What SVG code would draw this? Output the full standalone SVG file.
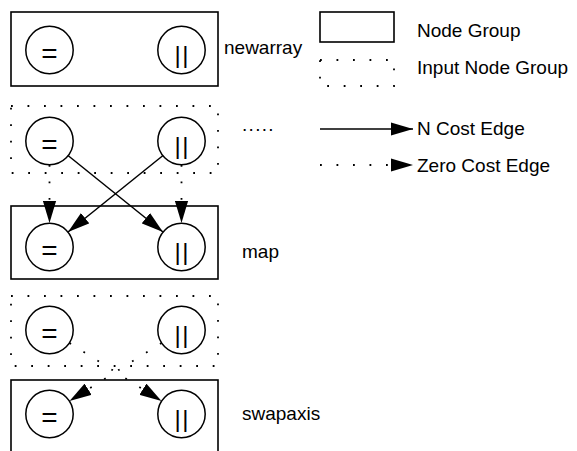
<svg xmlns="http://www.w3.org/2000/svg" width="577" height="451" viewBox="0 0 577 451">
<style>
.grp{fill:none;stroke:#000;stroke-width:1.6}
.inp{fill:none;stroke:#000;stroke-width:1.8;stroke-dasharray:1.8 14.7}
.nd{fill:#fff;stroke:#000;stroke-width:1.5}
.eq{font-family:"Liberation Sans",Arial,sans-serif;font-size:28px;text-anchor:middle;fill:#000}
.br{font-family:"Liberation Sans",Arial,sans-serif;font-size:24px;text-anchor:middle;fill:#000;letter-spacing:1.6px}
.lbl{font-family:"Liberation Sans",Arial,sans-serif;font-size:19px;fill:#000}
.e{fill:none;stroke:#000;stroke-width:1.5;marker-end:url(#ah)}
.z{fill:none;stroke:#000;stroke-width:1.8;stroke-dasharray:1.8 14.7;marker-end:url(#ah)}
</style>
<defs>
<marker id="ah" markerUnits="userSpaceOnUse" markerWidth="22" markerHeight="14" viewBox="0 0 20 12" refX="20" refY="6" orient="auto">
<path d="M0,0 L20,6 L0,12 z" fill="#000"/>
</marker>
</defs>
<rect width="577" height="451" fill="#fff"/>

<g id="newarray">
<rect class="grp" x="11" y="12" width="207" height="74"/>
<text class="lbl" x="224" y="54">newarray</text>
</g>
<g id="newarray-eq"><circle class="nd" cx="49.5" cy="50" r="23.7"/><text class="eq" x="49.5" y="63">=</text></g>
<g id="newarray-or"><circle class="nd" cx="181.5" cy="50" r="23.7"/><text class="br" x="182.3" y="63">||</text></g>

<g id="input1">
<rect class="inp" x="11" y="106" width="207" height="67"/>
<text class="lbl" x="242" y="131" letter-spacing="1.3">.....</text>
</g>
<g id="input1-eq"><circle class="nd" cx="49.5" cy="141" r="23.7"/><text class="eq" x="49.5" y="154">=</text></g>
<g id="input1-or"><circle class="nd" cx="181.5" cy="141" r="23.7"/><text class="br" x="182.3" y="154">||</text></g>

<g id="map">
<rect class="grp" x="11" y="206" width="207" height="73"/>
<text class="lbl" x="242" y="258">map</text>
</g>
<g id="map-eq"><circle class="nd" cx="49.5" cy="247" r="23.7"/><text class="eq" x="49.5" y="260">=</text></g>
<g id="map-or"><circle class="nd" cx="181.5" cy="247" r="23.7"/><text class="br" x="182.3" y="260">||</text></g>

<g id="input2">
<rect class="inp" x="11" y="296" width="207" height="70"/>
</g>
<g id="input2-eq"><circle class="nd" cx="49.5" cy="330" r="23.7"/><text class="eq" x="49.5" y="343">=</text></g>
<g id="input2-or"><circle class="nd" cx="181.5" cy="330" r="23.7"/><text class="br" x="182.3" y="343">||</text></g>

<g id="swapaxis">
<rect class="grp" x="11" y="380" width="207" height="100"/>
<text class="lbl" x="242" y="420">swapaxis</text>
</g>
<g id="swapaxis-eq"><circle class="nd" cx="49.5" cy="414" r="23.7"/><text class="eq" x="49.5" y="427">=</text></g>
<g id="swapaxis-or"><circle class="nd" cx="181.5" cy="414" r="23.7"/><text class="br" x="182.3" y="427">||</text></g>

<g id="legend">
<rect class="grp" x="320" y="12" width="74" height="30"/>
<text class="lbl" x="417" y="37">Node Group</text>
<rect class="inp" x="320" y="60" width="74" height="26"/>
<text class="lbl" x="417" y="74">Input Node Group</text>
<line class="e" x1="320" y1="129" x2="413" y2="129"/>
<text class="lbl" x="417" y="135">N Cost Edge</text>
<line class="z" x1="320" y1="165" x2="413" y2="165"/>
<text class="lbl" x="417" y="172">Zero Cost Edge</text>
</g>

<g id="connectors">
<line class="z" x1="49.5" y1="165" x2="49.5" y2="223"/>
<line class="z" x1="181.5" y1="165" x2="181.5" y2="223"/>
<line class="e" x1="68" y1="155.5" x2="163" y2="232"/>
<line class="e" x1="163" y1="155.5" x2="68" y2="232"/>
<line class="z" x1="69.5" y1="343" x2="161.5" y2="401"/>
<line class="z" x1="161.5" y1="343" x2="69.5" y2="401"/>
</g>
</svg>
